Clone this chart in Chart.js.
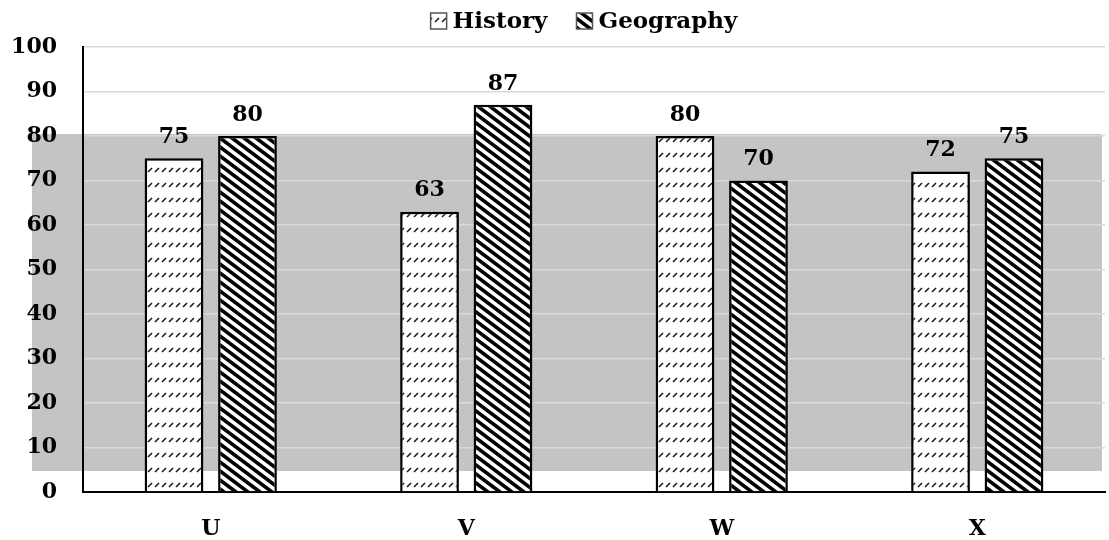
<!DOCTYPE html>
<html><head><meta charset="utf-8">
<script src="https://cdn.jsdelivr.net/npm/chart.js@4"></script>
<style>html,body{margin:0;padding:0;background:#fff}#wrap{width:1109px;height:540px}</style>
</head><body><div id="wrap"><canvas id="c" width="1109" height="540"></canvas></div>
<script>
const categories = ['U', 'V', 'W', 'X'];
const historyValues = [75, 63, 80, 72];
const geographyValues = [80, 87, 70, 75];
const yTicks = [0, 10, 20, 30, 40, 50, 60, 70, 80, 90, 100];

const FONT = '"DejaVu Serif", "Liberation Serif", serif';

function historyPattern() {
  const w = 7, h = 15;
  const c = document.createElement('canvas');
  c.width = w; c.height = h;
  const g = c.getContext('2d');
  g.fillStyle = '#fff'; g.fillRect(0, 0, w, h);
  g.strokeStyle = '#1a1a1a'; g.lineWidth = 1.6;
  g.beginPath();
  g.moveTo(1, 7); g.lineTo(5, 3);
  g.stroke();
  return g.createPattern(c, 'repeat');
}
function geographyPattern() {
  const w = 12, h = 9;
  const c = document.createElement('canvas');
  c.width = w; c.height = h;
  const g = c.getContext('2d');
  g.fillStyle = '#fff'; g.fillRect(0, 0, w, h);
  g.strokeStyle = '#000'; g.lineWidth = 3.6;
  g.beginPath();
  for (let k = -1; k <= 1; k++) {
    g.moveTo(k * w - w * 0.2, -h * 0.2); g.lineTo(k * w + w * 1.2, h * 1.2);
  }
  g.stroke();
  return g.createPattern(c, 'repeat');
}

const bandPlugin = {
  id: 'band',
  beforeDraw(chart) {
    const ctx = chart.ctx;
    ctx.save();
    ctx.fillStyle = '#c4c4c4';
    ctx.fillRect(32, 134, 1070, 337);
    ctx.restore();
  }
};

const legendPlugin = {
  id: 'customLegend',
  afterDraw(chart) {
    const ctx = chart.ctx;
    const ds = chart.data.datasets;
    ctx.save();
    ctx.font = 'bold 23px ' + FONT;
    const box = 16, textGap = 6, itemGap = 29;
    const widths = ds.map(d => box + textGap + ctx.measureText(d.label).width);
    const total = widths.reduce((a, b) => a + b, 0) + itemGap * (ds.length - 1);
    const ca = chart.chartArea;
    let x = (ca.left + ca.right) / 2 - 10 - total / 2;
    const cy = 21;
    ds.forEach((d, i) => {
      ctx.fillStyle = d.backgroundColor;
      ctx.fillRect(x, cy - box / 2, box, box);
      ctx.strokeStyle = '#555';
      ctx.lineWidth = 1.5;
      ctx.strokeRect(x, cy - box / 2, box, box);
      ctx.fillStyle = '#000';
      ctx.textAlign = 'left';
      ctx.textBaseline = 'middle';
      ctx.fillText(d.label, x + box + textGap, cy + 1);
      x += widths[i] + itemGap;
    });
    ctx.restore();
  }
};

const labelPlugin = {
  id: 'vals',
  afterDatasetsDraw(chart) {
    const ctx = chart.ctx;
    ctx.save();
    ctx.font = 'bold 22px ' + FONT;
    ctx.fillStyle = '#000';
    ctx.textAlign = 'center';
    ctx.textBaseline = 'bottom';
    chart.data.datasets.forEach((ds, i) => {
      chart.getDatasetMeta(i).data.forEach((bar, j) => {
        ctx.fillText(String(ds.data[j]), bar.x, bar.y - 10);
      });
    });
    ctx.restore();
  }
};

new Chart(document.getElementById('c'), {
  type: 'bar',
  data: {
    labels: categories,
    datasets: [
      { label: 'History', data: historyValues, backgroundColor: historyPattern(), borderColor: '#000', borderWidth: 2.5 },
      { label: 'Geography', data: geographyValues, backgroundColor: geographyPattern(), borderColor: '#000', borderWidth: 2.5 }
    ]
  },
  options: {
    responsive: false,
    animation: false,
    devicePixelRatio: 1,
    layout: { padding: { left: 0, right: 4, top: 47, bottom: 0 } },
    datasets: { bar: { categoryPercentage: 0.575, barPercentage: 0.8 } },
    plugins: {
      legend: { display: false },
      tooltip: { enabled: false }
    },
    scales: {
      x: {
        grid: { display: false, drawTicks: false },
        border: { display: true, color: '#000', width: 2 },
        ticks: { font: { family: FONT, size: 22, weight: 'bold' }, color: '#000', padding: 24 },
        afterFit(s) { s.height = 48; }
      },
      y: {
        min: 0, max: 100,
        afterBuildTicks(s) { s.ticks = yTicks.map(v => ({ value: v })); },
        grid: { color: '#d9d9d9', lineWidth: 1.5, drawTicks: false },
        border: { display: true, color: '#000', width: 2 },
        ticks: { font: { family: FONT, size: 22, weight: 'bold' }, color: '#000', padding: 26 },
        afterFit(s) { s.width = 83; }
      }
    }
  },
  plugins: [bandPlugin, legendPlugin, labelPlugin]
});
</script></body></html>
